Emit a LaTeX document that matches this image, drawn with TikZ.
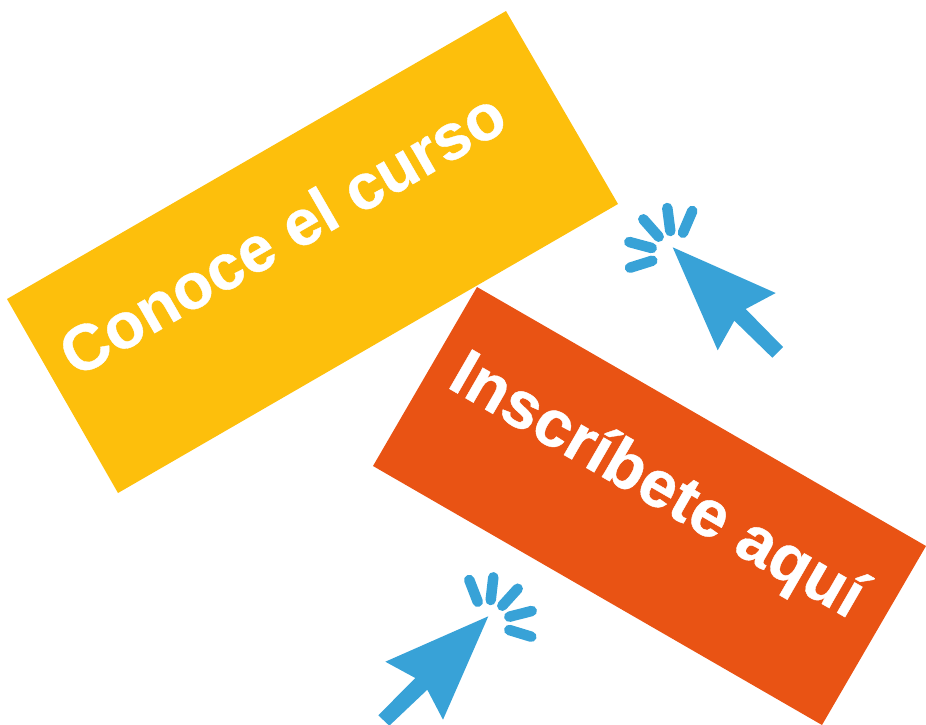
\documentclass[tikz,border=0pt]{standalone}
\usepackage{fontspec}
\setmainfont{Liberation Sans}[BoldFeatures={FakeBold=0.6}]
\definecolor{cyellow}{HTML}{FDBF0C}
\definecolor{corange}{HTML}{E95314}
\definecolor{cblue}{HTML}{38A2D7}
\tikzset{
  tick/.style={draw=cblue,line width=10.5pt,line cap=round},
  pointer/.style={fill=cblue,draw=none},
  label/.style={text=white,font=\fontsize{#1}{#1}\selectfont\bfseries,inner sep=0pt},
}
\begin{document}
\begin{tikzpicture}[x=1pt,y=-1pt]
\useasboundingbox (0,0) rectangle (926,724);
\fill[cyellow] (506,11) -- (618,204) -- (118,493) -- (7,299) -- cycle;
\fill[corange] (477,287) -- (926,546) -- (822,725) -- (373,466) -- cycle;
\node[label=64.5pt,rotate=30] (conoce) at (282,233) {Conoce el curso};
\node[label=66pt,rotate=-30] (inscribete) at (656,488) {Inscríbete aquí};
\fill[pointer] (672.7,247.3) -- (775.7,293) -- (745.7,309) -- (783,347) -- (772.3,357.7) -- (734.3,320.7) -- (717.7,350.3) -- cycle;
\draw[tick] (629.3,242) -- (651.7,248);
\draw[tick] (630,267.7) -- (652.3,260.7);
\draw[tick] (643.3,219.3) -- (658.7,236.7);
\draw[tick] (667.3,208) -- (670.3,231);
\draw[tick] (692.3,211) -- (683,232.7);
\fill[pointer] (488.3,616.3) -- (385.3,661.7) -- (415.3,678) -- (378.3,715.3) -- (389.3,725.7) -- (427.3,689.7) -- (443,719.7) -- cycle;
\draw[tick] (469.3,580) -- (477.7,601.7);
\draw[tick] (493.3,577.3) -- (490.7,600);
\draw[tick] (517.7,588.7) -- (502.3,605.7);
\draw[tick] (531.7,611) -- (509.3,616.7);
\draw[tick] (531.3,636.7) -- (509.3,630);
\end{tikzpicture}
\end{document}
